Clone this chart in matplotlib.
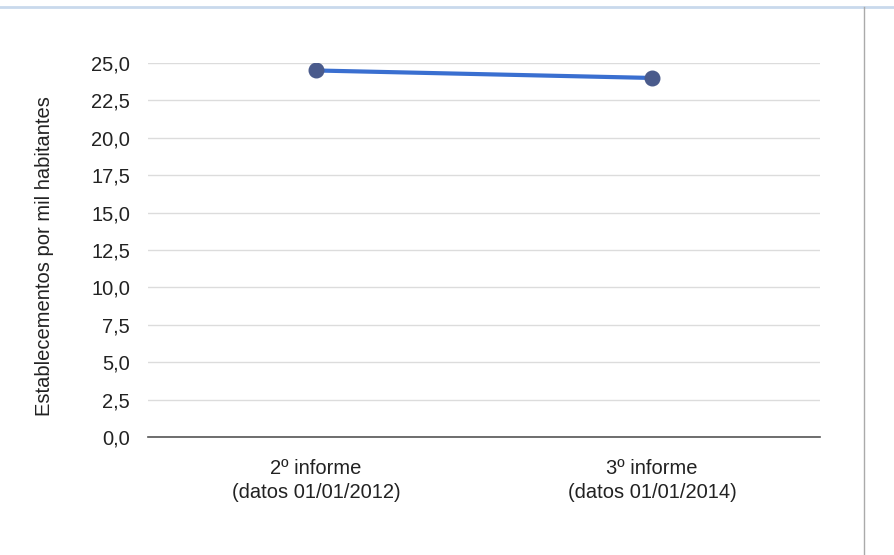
import matplotlib
matplotlib.use("Agg")
import matplotlib.pyplot as plt
from matplotlib.lines import Line2D
from matplotlib.ticker import FuncFormatter

categories = ["2º informe\n(datos 01/01/2012)", "3º informe\n(datos 01/01/2014)"]
values = [24.5, 24.0]
yticks = [0, 2.5, 5, 7.5, 10, 12.5, 15, 17.5, 20, 22.5, 25]

plt.rcParams['font.family'] = ['Liberation Sans', 'DejaVu Sans']

fig = plt.figure(figsize=(8.94, 5.55), dpi=100)
ax = fig.add_axes([148/894, 1-437/555, (820-148)/894, (437-63)/555])

x = list(range(len(categories)))
ax.plot(x, values, color='#3a6fd0', lw=3, zorder=3)
ax.plot(x, values, 'o', color='#4a5b8c', ms=10.5, mec='#4a5b8c', zorder=4)

ax.set_xlim(-0.5, 1.5)
ax.set_ylim(0, 25)
ax.set_yticks(yticks)
ax.yaxis.set_major_formatter(FuncFormatter(lambda v, p: f"{v:.1f}".replace('.', ',')))
ax.set_xticks(x)
ax.set_xticklabels(categories, linespacing=1.3)
ax.tick_params(axis='both', length=0, labelsize=14.5, colors='#222222')
ax.tick_params(axis='y', pad=13)
ax.tick_params(axis='x', pad=16)
ax.grid(axis='y', color='#dcdcdc', lw=1)
ax.set_axisbelow(True)
for s in ['top', 'right', 'left']:
    ax.spines[s].set_visible(False)
ax.spines['bottom'].set_color('#555555')
ax.spines['bottom'].set_linewidth(1.2)
ax.set_ylabel("Establecementos por mil habitantes", fontsize=14.5, color='#222222')
ax.yaxis.set_label_coords(-0.14, 0.485)

# frame decorations
fig.add_artist(Line2D([0, 1], [1-7/555, 1-7/555], transform=fig.transFigure, color='#c9d9ec', lw=2))
fig.add_artist(Line2D([864/894, 864/894], [0, 1-7/555], transform=fig.transFigure, color='#aaaaaa', lw=1))

fig.savefig("out.png", dpi=100)
